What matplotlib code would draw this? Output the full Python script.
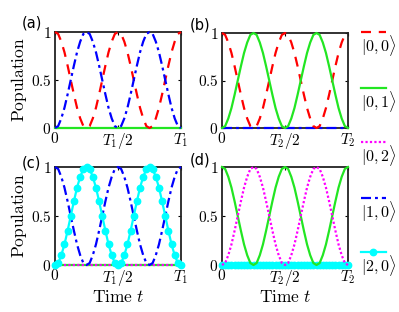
import matplotlib
matplotlib.use("Agg")
import matplotlib.pyplot as plt
from matplotlib.lines import Line2D

plt.rcParams['mathtext.fontset'] = 'cm'
plt.rcParams['font.family'] = ['DejaVu Sans']

# time samples as fraction of period T (0 .. 1)
t = [k / 40 for k in range(41)]

# populations (cos^2-like and sin^2-like shapes)
p_down = [1.00, 0.98, 0.90, 0.79, 0.65, 0.50, 0.35, 0.21, 0.10, 0.02,
          0.00, 0.02, 0.10, 0.21, 0.35, 0.50, 0.65, 0.79, 0.90, 0.98,
          1.00, 0.98, 0.90, 0.79, 0.65, 0.50, 0.35, 0.21, 0.10, 0.02,
          0.00, 0.02, 0.10, 0.21, 0.35, 0.50, 0.65, 0.79, 0.90, 0.98, 1.00]
p_up = [0.00, 0.02, 0.10, 0.21, 0.35, 0.50, 0.65, 0.79, 0.90, 0.98,
        1.00, 0.98, 0.90, 0.79, 0.65, 0.50, 0.35, 0.21, 0.10, 0.02,
        0.00, 0.02, 0.10, 0.21, 0.35, 0.50, 0.65, 0.79, 0.90, 0.98,
        1.00, 0.98, 0.90, 0.79, 0.65, 0.50, 0.35, 0.21, 0.10, 0.02, 0.00]
p_zero = [0.0] * 41

labels = [r'$|0,0\rangle$', r'$|0,1\rangle$', r'$|0,2\rangle$', r'$|1,0\rangle$', r'$|2,0\rangle$']
yticks = [0, 0.5, 1]
yticklabels = [r'$0$', r'$0.5$', r'$1$']
xticks = [0, 0.5, 1]
xticklabels_1 = [r'$0$', r'$T_1/2$', r'$T_1$']
xticklabels_2 = [r'$0$', r'$T_2/2$', r'$T_2$']

RED = '#ff0000'
GREEN = '#22e622'
MAG = '#ff00ff'
BLUE = '#0000ff'
CYAN = '#00ffff'

styles = {
    0: dict(color=RED, ls=(0, (4.5, 3.5)), lw=1.6),
    1: dict(color=GREEN, ls='-', lw=1.6),
    2: dict(color=MAG, ls=(0, (1, 1)), lw=1.6),
    3: dict(color=BLUE, ls=(0, (4.5, 1.8, 1.3, 1.8)), lw=1.6),
    4: dict(color=CYAN, ls='-', lw=1.6, marker='o', ms=4.6, mec=CYAN, mfc=CYAN),
}

fig = plt.figure(figsize=(3.99, 3.12), dpi=100)
W, H = 399, 312

def make_ax(x0, x1, ytop, ybot):
    return fig.add_axes([x0 / W, 1 - ybot / H, (x1 - x0) / W, (ybot - ytop) / H])

axa = make_ax(55, 181, 32, 128)
axb = make_ax(222, 348, 33, 128)
axc = make_ax(55, 181, 167, 265)
axd = make_ax(222, 348, 167, 265)

def draw(ax, idx, data):
    ax.plot(t, data, clip_on=False, zorder=3, **styles[idx])

draw(axa, 1, p_zero)
draw(axa, 0, p_down)
draw(axa, 3, p_up)

draw(axb, 3, p_zero)
draw(axb, 0, p_down)
draw(axb, 1, p_up)

draw(axc, 1, p_zero)
draw(axc, 2, p_zero)
draw(axc, 3, p_down)
draw(axc, 4, p_up)

draw(axd, 4, p_zero)
draw(axd, 1, p_down)
draw(axd, 2, p_up)

for ax, xl in [(axa, xticklabels_1), (axb, xticklabels_2), (axc, xticklabels_1), (axd, xticklabels_2)]:
    ax.set_xlim(0, 1)
    ax.set_ylim(0, 1)
    ax.set_xticks(xticks)
    ax.set_xticklabels(xl)
    ax.set_yticks(yticks)
    ax.set_yticklabels(yticklabels)
    ax.tick_params(direction='in', length=2.5, width=0.8, top=True, right=True,
                   labelsize=11, pad=2.5)
    for s in ax.spines.values():
        s.set_linewidth(1.3)
        s.set_color('#222222')

for ax in (axa, axc):
    ax.set_ylabel(r'$\mathrm{Population}$', fontsize=12.5, labelpad=1)
for ax in (axc, axd):
    ax.set_xlabel(r'$\mathrm{Time}\ t$', fontsize=12.5, labelpad=0)

for txt, x, y in [('(a)', 22, 23), ('(b)', 190, 25), ('(c)', 22, 163), ('(d)', 190, 160)]:
    fig.text(x / W, 1 - y / H, txt, fontsize=10.5, ha='left', va='center')

# legend at right, key above label
leg_y = [32, 88, 142, 198, 252]
for i, (lab, y) in enumerate(zip(labels, leg_y)):
    st = dict(styles[i])
    if i == 4:
        ln = Line2D([361 / W, 373 / W, 386 / W], [1 - y / H] * 3, transform=fig.transFigure,
                    markevery=[1], **st)
    else:
        ln = Line2D([361 / W, 386 / W], [1 - y / H] * 2, transform=fig.transFigure, **st)
    fig.add_artist(ln)
    fig.text(361 / W, 1 - (y + 13) / H, lab, fontsize=11.5, ha='left', va='center')

fig.savefig('out.png', dpi=100)
